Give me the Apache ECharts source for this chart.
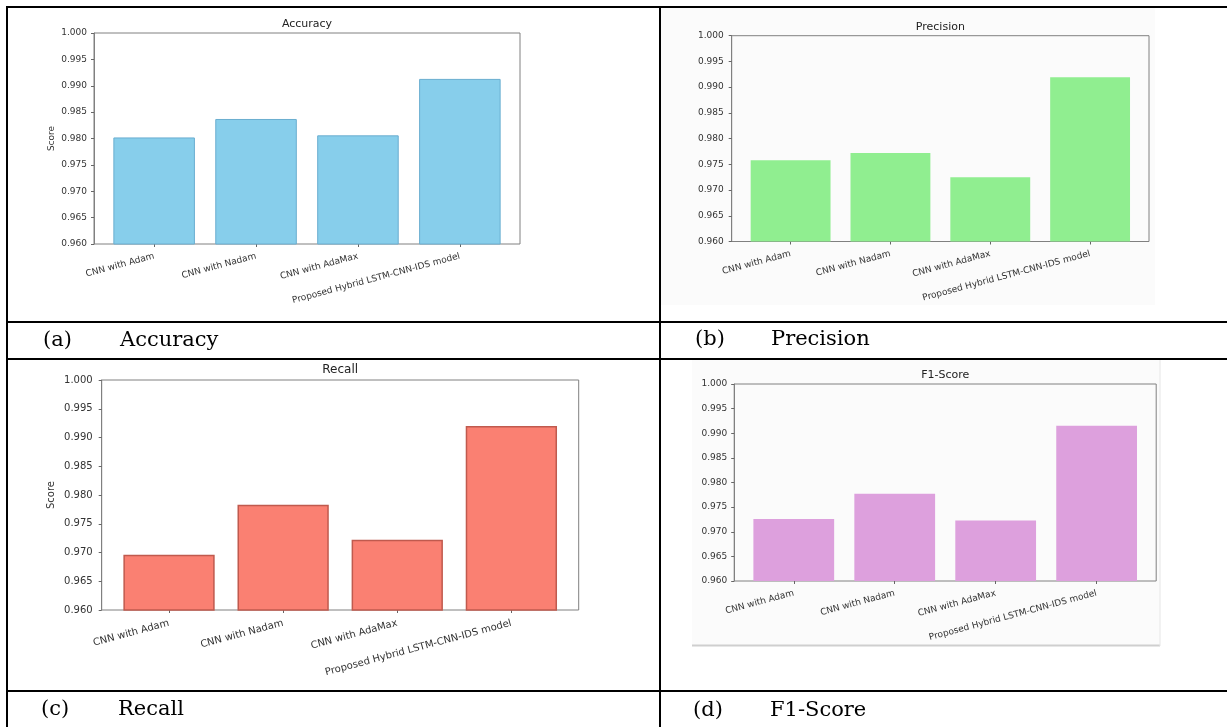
<!DOCTYPE html>
<html><head><meta charset="utf-8">
<script src="https://cdn.jsdelivr.net/npm/echarts@6/dist/echarts.min.js"></script>
<style>html,body{margin:0;padding:0;background:#fff}#c{width:1227px;height:727px}</style>
</head><body><div id="c"></div>
<script>
// ---- data ----
const categories = ['CNN with Adam', 'CNN with Nadam', 'CNN with AdaMax', 'Proposed Hybrid LSTM-CNN-IDS model'];
const accuracy  = [0.9802, 0.9837, 0.9806, 0.9913];
const precision = [0.9758, 0.9772, 0.9725, 0.9919];
const recall    = [0.9696, 0.9783, 0.9722, 0.9920];
const f1Score   = [0.9726, 0.9777, 0.9723, 0.9915];
const yMin = 0.960, yMax = 1.000, yStep = 0.005;
const chartTitles = ['Accuracy', 'Precision', 'Recall', 'F1-Score'];
const captionLetters = ['(a)', '(b)', '(c)', '(d)'];
const captionNames = ['Accuracy', 'Precision', 'Recall', 'F1-Score'];
const yAxisName = 'Score';

// ---- layout / style ----
const panels = [
  {data: accuracy,  frame: [94, 33, 426, 211],      color: '#87CEEB', edge: '#6aaed0', edgeW: 1,   fs: 9,  ttlY: 24,  ylab: true,  nameGap: 38, ym: 7, xm: 12, cap: [43, 120, 341]},
  {data: precision, frame: [731.7, 35.7, 417.3, 205.8], color: '#90EE90', edge: null, edgeW: 0,   fs: 9,  ttlY: 27,  ylab: false, nameGap: 38, ym: 8, xm: 12, cap: [695, 771, 340]},
  {data: recall,    frame: [101.7, 380, 477, 230],  color: '#FA8072', edge: '#c05a4e', edgeW: 1.5, fs: 10, ttlY: 370, ylab: true,  nameGap: 45, ym: 9, xm: 13, cap: [41, 118, 710]},
  {data: f1Score,   frame: [734.2, 384, 422, 197],  color: '#DDA0DD', edge: null, edgeW: 0,   fs: 9,  ttlY: 375, ylab: false, nameGap: 38, ym: 7, xm: 12, cap: [693, 770, 711]}
];

const grid = [], xAxis = [], yAxis = [], series = [], graphic = [];
const font = 'DejaVu Sans';

// backgrounds of pasted images (b) and (d)
graphic.push({type: 'rect', z: -10, shape: {x: 660, y: 8, width: 495, height: 297}, style: {fill: '#fbfbfb'}});
graphic.push({type: 'rect', z: -10, shape: {x: 692, y: 360, width: 468, height: 286}, style: {fill: '#fbfbfb'}});
graphic.push({type: 'line', z: -9, shape: {x1: 692, y1: 645.5, x2: 1160, y2: 645.5}, style: {stroke: '#cfcfcf', lineWidth: 2}});
graphic.push({type: 'line', z: -9, shape: {x1: 1160, y1: 360, x2: 1160, y2: 646}, style: {stroke: '#e6e6e6', lineWidth: 1}});

panels.forEach((p, i) => {
  const [l, t, w, h] = p.frame;
  const pitch = w / 4.18;
  const inner = (w - 4 * pitch) / 2;
  // frame grid
  grid.push({left: l, top: t, width: w, height: h, show: true, borderColor: '#808080', borderWidth: 1, backgroundColor: 'transparent'});
  // data grid
  grid.push({left: l + inner, top: t, width: 4 * pitch, height: h});
  const fg = 2 * i, dg = 2 * i + 1;
  xAxis.push({gridIndex: fg, type: 'value', show: false, min: 0, max: 1});
  yAxis.push({
    gridIndex: fg, type: 'value', min: yMin, max: yMax, interval: yStep,
    name: p.ylab ? yAxisName : '', nameLocation: 'middle', nameGap: p.nameGap,
    nameTextStyle: {fontFamily: font, fontSize: p.fs, color: '#333'},
    axisLine: {show: true, lineStyle: {color: '#808080', width: 1}},
    axisTick: {show: true, length: 3, lineStyle: {color: '#666'}},
    axisLabel: {margin: p.ym, fontFamily: font, fontSize: p.fs, color: '#333', formatter: v => v.toFixed(3)},
    splitLine: {show: false}
  });
  xAxis.push({
    gridIndex: dg, type: 'category', data: categories, boundaryGap: true,
    axisLine: {show: false},
    axisTick: {show: true, alignWithLabel: true, length: 3, lineStyle: {color: '#666'}},
    axisLabel: {interval: 0, rotate: 15, margin: p.xm, fontFamily: font, fontSize: p.fs, color: '#333'}
  });
  yAxis.push({gridIndex: dg, type: 'value', min: yMin, max: yMax, show: false, splitLine: {show: false}});
  series.push({
    type: 'bar', xAxisIndex: 2 * i + 1, yAxisIndex: 2 * i + 1, data: p.data, barWidth: '80%', clip: true,
    itemStyle: {color: p.color, borderColor: p.edge || p.color, borderWidth: p.edgeW},
    emphasis: {disabled: true}, animation: false
  });
  // chart title
  graphic.push({type: 'text', x: l + w / 2, y: p.ttlY, style: {text: chartTitles[i], fontFamily: font, fontSize: p.fs + 2, fill: '#222', textAlign: 'center', textVerticalAlign: 'middle'}});
  // captions
  graphic.push({type: 'text', x: p.cap[0], y: p.cap[2], style: {text: captionLetters[i], fontFamily: 'DejaVu Serif', fontSize: 21, fill: '#000', textAlign: 'left', textVerticalAlign: 'middle'}});
  graphic.push({type: 'text', x: p.cap[1], y: p.cap[2], style: {text: captionNames[i], fontFamily: 'DejaVu Serif', fontSize: 21, fill: '#000', textAlign: 'left', textVerticalAlign: 'middle'}});
});

// table lines
const tl = (x1, y1, x2, y2) => graphic.push({type: 'line', z: 10, shape: {x1, y1, x2, y2}, style: {stroke: '#000', lineWidth: 2}});
tl(6, 7, 1227, 7);
tl(7, 7, 7, 727);
tl(660, 7, 660, 727);
tl(6, 322, 1227, 322);
tl(6, 359, 1227, 359);
tl(6, 691, 1227, 691);

const chart = echarts.init(document.getElementById('c'), null, {renderer: 'canvas'});
chart.setOption({animation: false, grid, xAxis, yAxis, series, graphic});
</script>
</body></html>
